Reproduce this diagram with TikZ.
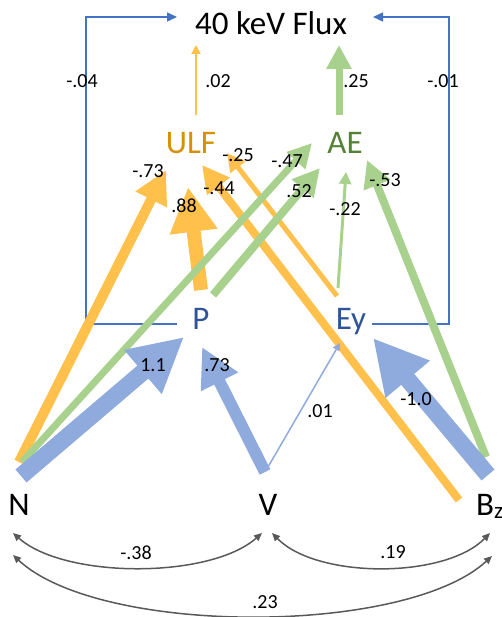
\documentclass[tikz,border=0pt]{standalone}
\usepackage{fontspec}
\setmainfont{Carlito}
\usetikzlibrary{arrows.meta,calc}
\definecolor{orL}{RGB}{255,192,76}
\definecolor{orT}{RGB}{214,144,0}
\definecolor{grL}{RGB}{169,209,142}
\definecolor{grT}{RGB}{84,130,53}
\definecolor{blL}{RGB}{143,170,220}
\definecolor{blT}{RGB}{47,85,151}
\definecolor{blF}{RGB}{68,114,196}
\definecolor{gyA}{RGB}{89,89,89}
\tikzset{
  big/.style={font=\fontsize{33}{36}\selectfont, inner sep=0pt, anchor=base},
  lab/.style={font=\fontsize{20}{22}\selectfont, inner sep=0pt, anchor=base},
  pa/.style={-{Triangle[length=3pt 3, width=3pt 3]}, line cap=butt},
  fluxc/.style={blF, line width=1.5pt, -{Triangle[length=10pt, width=9pt]}},
  corr/.style={gyA, line width=1.5pt, {Triangle[length=8pt, width=7pt]}-{Triangle[length=8pt, width=7pt]}}
}
\begin{document}
\begin{tikzpicture}[x=1pt, y=-1pt]
\useasboundingbox (0,0) rectangle (501,617);
% nodes
\node[big, text=black] (flux) at (271,35) {40 keV Flux};
\node[big, text=orT] (ulf) at (191,154) {ULF};
\node[big, text=grT] (ae) at (345,154) {AE};
\node[big, text=blT] (p) at (201,329) {P};
\node[big, text=blT] (ey) at (351,329) {Ey};
\node[big] (n) at (19,515) {N};
\node[big] (v) at (268,515) {V};
\node[big, anchor=base west] (bz) at (476,515) {B\textsubscript{z}};
% endpoints
\coordinate (pW) at (177,324);
\coordinate (fxL) at (177,17);
\coordinate (eyE) at (372,324);
\coordinate (fxR) at (373,17);
\coordinate (ulfT) at (196,115); \coordinate (fxU) at (196,45);
\coordinate (aeT) at (339,115); \coordinate (fxA) at (339,45);
\coordinate (nO) at (19,462); \coordinate (ulfA) at (166,170);
\coordinate (pO) at (201,290); \coordinate (ulfB) at (188,187);
\coordinate (bzO) at (459,500); \coordinate (ulfC) at (202,165);
\coordinate (eyO) at (337,296); \coordinate (ulfD) at (227,153);
\coordinate (nG) at (22,462); \coordinate (aeA) at (312,143);
\coordinate (pG) at (213,295); \coordinate (aeB) at (320,168);
\coordinate (eyG) at (338,288); \coordinate (aeC) at (346,172);
\coordinate (bzG) at (486,457); \coordinate (aeD) at (367,160);
\coordinate (nB) at (21,476); \coordinate (pA) at (184,337);
\coordinate (vB) at (265,472); \coordinate (pB) at (202,347);
\coordinate (vE) at (268,467); \coordinate (eyA) at (340,343);
\coordinate (bzB) at (488,475); \coordinate (eyB) at (373,338);
\coordinate (nC1) at (13,533); \coordinate (vC1) at (262,533);
\coordinate (vC2) at (272,533); \coordinate (bzC1) at (490,533);
\coordinate (nC2) at (13,555); \coordinate (bzC2) at (492,556);
% flux connectors
\draw[fluxc] (pW) -- ++(-91,0) |- (fxL);
\draw[fluxc] (eyE) -- ++(77,0) |- (fxR);
% orange
\draw[pa, orL, line width=2pt] (ulfT) -- (fxU);
\draw[pa, orL, line width=10pt] (nO) -- (ulfA);
\draw[pa, orL, line width=14pt] (pO) -- (ulfB);
\draw[pa, orL, line width=8pt] (bzO) -- (ulfC);
\draw[pa, orL, line width=5pt] (eyO) -- (ulfD);
% green
\draw[pa, grL, line width=7pt] (aeT) -- (fxA);
\draw[pa, grL, line width=7pt] (nG) -- (aeA);
\draw[pa, grL, line width=8pt] (pG) -- (aeB);
\draw[pa, grL, line width=3pt] (eyG) -- (aeC);
\draw[pa, grL, line width=8pt] (bzG) -- (aeD);
% blue
\draw[pa, blL, line width=17pt] (nB) -- (pA);
\draw[pa, blL, line width=12pt] (vB) -- (pB);
\draw[pa, blL, line width=1.5pt] (vE) -- (eyA);
\draw[pa, blL, line width=17pt] (bzB) -- (eyB);
% correlations
\draw[corr] (nC1) .. controls (65,579) and (210,579) .. (vC1);
\draw[corr] (vC2) .. controls (317,579) and (445,579) .. (bzC1);
\draw[corr] (nC2) .. controls (100,636) and (405,636) .. (bzC2);
% labels
\node[lab] (l1) at (82,88) {-.04};
\node[lab] (l2) at (218,88) {.02};
\node[lab] (l3) at (356,88) {.25};
\node[lab] (l4) at (443,88) {-.01};
\node[lab] (l5) at (148,178) {-.73};
\node[lab] (l6) at (238,162) {-.25};
\node[lab] (l7) at (219,195) {-.44};
\node[lab] (l8) at (184,213) {.88};
\node[lab] (l9) at (287,168) {-.47};
\node[lab] (l10) at (299,198) {.52};
\node[lab] (l11) at (345,216) {-.22};
\node[lab] (l12) at (385,187) {-.53};
\node[lab] (l13) at (153,371) {1.1};
\node[lab] (l14) at (217,371) {.73};
\node[lab] (l15) at (320,417) {.01};
\node[lab] (l16) at (416,405) {-1.0};
\node[lab] (l17) at (136,559) {-.38};
\node[lab] (l18) at (393,558) {.19};
\node[lab] (l19) at (265,608) {.23};
\end{tikzpicture}
\end{document}
